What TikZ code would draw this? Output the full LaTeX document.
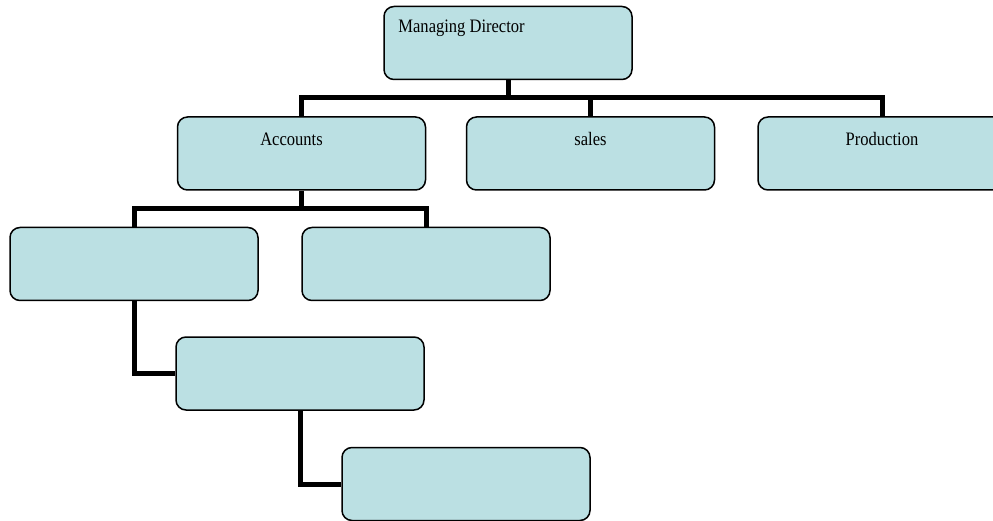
\documentclass[tikz,border=0pt]{standalone}
\usepackage{fontspec}
\setmainfont{Liberation Serif}[FakeStretch=0.87]
\definecolor{boxfill}{RGB}{187,224,227}
\begin{document}
\begin{tikzpicture}[x=1pt, y=-1pt,
  box/.style={draw, line width=1.5pt, rounded corners=10pt, fill=boxfill,
    minimum width=248pt, minimum height=73pt, inner sep=0pt},
  link/.style={line width=5pt},
  lbl/.style={font=\fontsize{19}{21}\selectfont, inner sep=0pt}]
  \useasboundingbox (0,0) rectangle (993,521);
  \clip (0,0) rectangle (993,521);
  \node[box] (md) at (508,43) {};
  \node[box] (acc) at (301.5,153.5) {};
  \node[box] (sales) at (590.5,153.5) {};
  \node[box] (prod) at (882,153.5) {};
  \node[box] (l1) at (134,264) {};
  \node[box] (l2) at (426,264) {};
  \node[box] (l3) at (300,373.5) {};
  \node[box] (l4) at (466,484) {};
  \draw[link] (md.south) -- ++(0,17) coordinate (mdbus);
  \draw[link] (mdbus) -| (acc.north);
  \draw[link] (mdbus) -| (sales.north);
  \draw[link] (mdbus) -| (prod.north);
  \draw[link] (acc.south) -- ++(0,18) coordinate (accbus);
  \draw[link] (accbus) -| (l1.north);
  \draw[link] (accbus) -| (l2.north);
  \draw[link] (l1.south) |- (l3.west);
  \draw[link] (l3.south) |- (l4.west);
  \node[lbl, anchor=west] (mdtext) at ([xshift=15pt,yshift=-23pt]md.north west) {Managing Director};
  \node[lbl] (acctext) at ([xshift=-10pt,yshift=-23pt]acc.north) {Accounts};
  \node[lbl] (salestext) at ([yshift=-23pt]sales.north) {sales};
  \node[lbl] (prodtext) at ([yshift=-23pt]prod.north) {Production};
\end{tikzpicture}
\end{document}
